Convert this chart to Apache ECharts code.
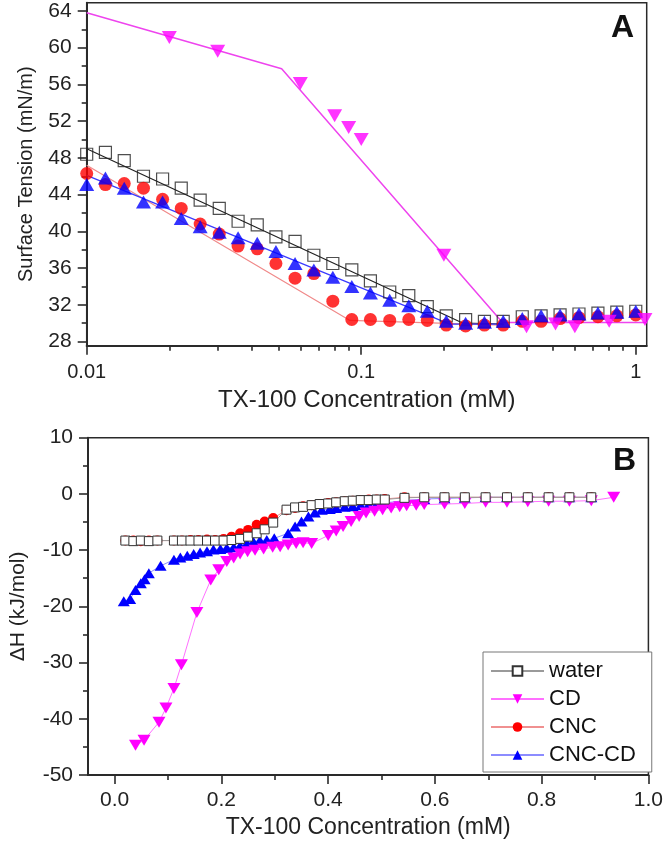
<!DOCTYPE html>
<html>
<head>
<meta charset="utf-8">
<script src="https://cdn.jsdelivr.net/npm/echarts@6/dist/echarts.min.js"></script>
<style>
html,body{margin:0;padding:0;background:#fff;}
#chart{width:666px;height:844px;}
</style>
</head>
<body>
<div id="chart"></div>
<script>
// ---------- Panel A: surface tension vs TX-100 concentration (log x) ----------
const concA = [0.0100,0.0117,0.0137,0.0161,0.0189,0.0221,0.0259,0.0304,0.0356,0.0418,0.0489,0.0574,0.0672,0.0788,0.0924,0.108,0.127,0.149,0.174,0.204,0.240,0.281,0.329,0.386,0.452,0.530,0.621,0.728,0.853,1.000];
const waterA = [48.4,48.6,47.7,46.0,45.7,44.7,43.4,42.5,41.1,40.7,39.4,38.9,37.4,36.5,35.8,34.6,33.4,33.0,31.8,30.8,30.4,30.2,30.2,30.7,30.8,30.9,31.0,31.1,31.2,31.3];
const cncA = [46.3,45.1,45.2,44.7,43.5,42.5,40.8,39.7,38.4,38.1,36.5,34.9,35.4,32.4,30.4,30.4,30.3,30.4,30.3,29.8,29.7,29.8,29.8,30.2,30.2,30.5,30.6,30.7,30.8,30.9];
const cncCdA = [45.1,45.8,44.7,43.2,43.2,41.4,40.5,39.9,39.3,38.7,37.8,36.5,35.8,35.0,34.0,33.3,32.5,31.9,31.3,30.2,30.0,30.1,30.2,30.5,30.8,30.9,31.0,31.1,31.2,31.3];
const concCdA = [0.020,0.030,0.060,0.080,0.090,0.100,0.200,0.400,0.510,0.600,0.800,1.080];
const cdA = [61.1,59.6,56.1,52.6,51.3,50.0,37.4,29.6,29.9,29.6,30.2,30.4];
// fitted lines (panel A)
const waterFitX = [0.01,0.235,0.33];  const waterFitY = [49.0,30.0,29.9];
const cncFitX = [0.01,0.091,0.33];    const cncFitY = [47.2,30.3,29.8];
const cncCdFitX = [0.01,0.21,0.33];   const cncCdFitY = [46.1,29.9,29.9];
const cdFitX = [0.01,0.0513,0.327,1.1]; const cdFitY = [63.8,57.7,30.07,30.07];
// axis ticks (panel A)
const xMajorA = [0.01,0.1,1];
const xMinorA = [0.02,0.03,0.04,0.05,0.06,0.07,0.08,0.09,0.2,0.3,0.4,0.5,0.6,0.7,0.8,0.9];
const yMajorA = [28,32,36,40,44,48,52,56,60,64];
const yMinorA = [30,34,38,42,46,50,54,58,62];

// ---------- Panel B: enthalpy vs TX-100 concentration ----------
const concB = [0.020,0.035,0.049,0.064,0.080,0.111,0.126,0.142,0.157,0.173,0.188,0.204,0.219,0.235,0.250,0.266,0.281,0.297,0.322,0.338,0.353,0.369,0.384,0.400,0.415,0.431,0.446,0.461,0.476,0.491,0.506,0.543,0.580,0.618,0.656,0.695,0.735,0.774,0.813,0.852,0.893];
const waterB = [-8.3,-8.4,-8.3,-8.4,-8.3,-8.3,-8.3,-8.3,-8.3,-8.3,-8.3,-8.3,-8.2,-8.0,-7.6,-7.0,-6.3,-5.1,-2.8,-2.4,-2.3,-2.0,-1.8,-1.7,-1.5,-1.3,-1.2,-1.1,-1.1,-1.0,-1.0,-0.7,-0.6,-0.6,-0.6,-0.6,-0.6,-0.6,-0.6,-0.6,-0.6];
const cncB = [-8.3,-8.3,-8.4,-8.3,-8.3,-8.3,-8.3,-8.2,-8.2,-8.1,-8.2,-8.0,-7.6,-7.0,-6.4,-5.5,-4.9,-4.3,-2.9,-2.5,-2.2,-2.0,-1.8,-1.6,-1.5,-1.3,-1.2,-1.1,-1.0,-1.0,-0.9,-0.6,-0.6,-0.6,-0.6,-0.6,-0.6,-0.6,-0.6,-0.6,-0.6];
const concCdB = [0.039,0.055,0.083,0.096,0.111,0.125,0.154,0.180,0.195,0.210,0.223,0.235,0.249,0.263,0.279,0.296,0.310,0.325,0.340,0.353,0.369,0.400,0.415,0.428,0.443,0.458,0.471,0.487,0.502,0.518,0.534,0.547,0.565,0.580,0.618,0.656,0.695,0.735,0.774,0.813,0.852,0.893,0.935];
const cdB = [-44.7,-43.8,-40.6,-38.1,-34.6,-30.4,-21.1,-15.3,-13.5,-12.0,-11.4,-10.7,-10.3,-10.0,-9.8,-9.5,-9.4,-9.1,-8.8,-8.7,-8.8,-7.4,-6.6,-5.8,-4.9,-4.0,-3.4,-3.1,-2.8,-2.5,-2.3,-2.1,-2.0,-1.9,-1.8,-1.7,-1.5,-1.5,-1.4,-1.3,-1.3,-1.2,-0.6];
const concCncCdB = [0.017,0.029,0.039,0.049,0.056,0.064,0.086,0.111,0.123,0.136,0.148,0.160,0.173,0.185,0.198,0.210,0.223,0.235,0.248,0.260,0.272,0.285,0.299,0.325,0.338,0.350,0.363,0.375,0.388,0.403,0.415,0.431,0.446,0.461,0.476,0.491,0.506,0.543,0.580,0.618,0.656,0.695,0.735,0.774,0.813,0.852,0.893];
const cncCdB = [-19.1,-18.7,-17.1,-15.9,-15.2,-14.1,-12.8,-11.7,-11.3,-11.0,-10.7,-10.4,-10.2,-9.9,-9.8,-9.6,-9.5,-9.2,-8.8,-8.5,-8.3,-8.2,-7.9,-7.0,-5.8,-4.9,-4.0,-3.3,-2.8,-2.7,-2.5,-2.3,-2.2,-2.0,-1.9,-1.8,-1.6,-1.2,-0.9,-0.8,-0.7,-0.6,-0.6,-0.6,-0.6,-0.6,-0.6];
const xMajorB = [0,0.2,0.4,0.6,0.8,1.0];
const xMinorB = [0.1,0.3,0.5,0.7,0.9];
const legendNames = ['water','CD','CNC','CNC-CD'];

function zip(xs, ys){ return xs.map((x,i)=>[x, ys[i]]); }

const FONT = '"Liberation Sans", Arial, sans-serif';
const AX = '#2a2a2a';
const TXT = '#222';

const chart = echarts.init(document.getElementById('chart'), null, {renderer:'canvas'});

const axisLineStyle = {show:true, onZero:false, lineStyle:{color:AX, width:2}};
const noLine = {show:false, onZero:false};
const majorTick = {color:AX, width:1.6};
const option = {
  animation:false,
  backgroundColor:'#fff',
  textStyle:{fontFamily:FONT},
  title:[
    {text:'A', right:32, top:12, padding:0, textStyle:{fontSize:32, fontWeight:'bold', color:'#111', fontFamily:FONT}},
    {text:'B', right:30, top:445, padding:0, textStyle:{fontSize:32, fontWeight:'bold', color:'#111', fontFamily:FONT}}
  ],
  legend:{
    data:legendNames,
    orient:'vertical',
    left:483, top:652,
    itemWidth:53, itemHeight:12, itemGap:6,
    padding:[8,16,6,7],
    borderColor:'#777', borderWidth:1, backgroundColor:'#fff',
    selectedMode:false,
    textStyle:{fontSize:22, lineHeight:22, color:'#111', fontFamily:FONT}
  },
  grid:[
    {left:86.7, top:2.7, width:560, height:343, show:true, borderColor:AX, borderWidth:1.5, backgroundColor:'transparent'},
    {left:86.7, top:437.7, width:563.3, height:337.3, show:true, borderColor:AX, borderWidth:1.5, backgroundColor:'transparent'}
  ],
  xAxis:[
    {gridIndex:0, type:'log', logBase:10, min:0.01, max:1.096, position:'bottom',
     axisLine:axisLineStyle,
     axisTick:{show:true, customValues:xMajorA, length:9, lineStyle:majorTick},
     axisLabel:{customValues:xMajorA, fontSize:20, margin:17, color:TXT, fontFamily:FONT,
       formatter:function(v){ return String(+v.toPrecision(3)); }},
     splitLine:{show:false},
     name:'TX-100 Concentration (mM)', nameLocation:'middle', nameGap:43,
     nameTextStyle:{fontSize:24, color:TXT, fontFamily:FONT}},
    {gridIndex:0, type:'log', logBase:10, min:0.01, max:1.096, position:'bottom',
     axisLine:noLine,
     axisTick:{show:true, customValues:xMinorA, length:5, lineStyle:majorTick},
     axisLabel:{show:false, customValues:xMinorA}, splitLine:{show:false}},
    {gridIndex:1, type:'value', min:-0.05, max:1.0, position:'bottom',
     axisLine:axisLineStyle,
     axisTick:{show:true, customValues:xMajorB, length:9, lineStyle:majorTick},
     axisLabel:{customValues:xMajorB, fontSize:21, margin:15, color:TXT, fontFamily:FONT,
       formatter:function(v){ return Number(v).toFixed(1); }},
     splitLine:{show:false},
     name:'TX-100 Concentration (mM)', nameLocation:'middle', nameGap:41.5,
     nameTextStyle:{fontSize:23, color:TXT, fontFamily:FONT}},
    {gridIndex:1, type:'value', min:-0.05, max:1.0, position:'bottom',
     axisLine:noLine,
     axisTick:{show:true, customValues:xMinorB, length:5, lineStyle:majorTick},
     axisLabel:{show:false, customValues:xMinorB}, splitLine:{show:false}}
  ],
  yAxis:[
    {gridIndex:0, type:'value', min:27.55, max:64.9, position:'left',
     axisLine:axisLineStyle,
     axisTick:{show:true, customValues:yMajorA, length:9, lineStyle:majorTick},
     axisLabel:{customValues:yMajorA, fontSize:21, margin:15, color:TXT, fontFamily:FONT},
     splitLine:{show:false},
     name:'Surface Tension (mN/m)', nameLocation:'middle', nameGap:50.7,
     nameTextStyle:{fontSize:20, color:TXT, fontFamily:FONT}},
    {gridIndex:0, type:'value', min:27.55, max:64.9, position:'left',
     axisLine:noLine,
     axisTick:{show:true, customValues:yMinorA, length:5, lineStyle:majorTick},
     axisLabel:{show:false, customValues:yMinorA}, splitLine:{show:false}},
    {gridIndex:1, type:'value', min:-50, max:10, interval:10, position:'left',
     axisLine:axisLineStyle,
     axisTick:{show:true, length:9, lineStyle:majorTick},
     minorTick:{show:true, splitNumber:2, length:5, lineStyle:majorTick},
     axisLabel:{fontSize:21, margin:15, color:TXT, fontFamily:FONT},
     splitLine:{show:false},
     name:'ΔH (kJ/mol)', nameLocation:'middle', nameGap:59,
     nameTextStyle:{fontSize:21, color:TXT, fontFamily:FONT}}
  ],
  series:[
    // ----- Panel A fits -----
    {name:'fit water A', type:'line', xAxisIndex:0, yAxisIndex:0, symbol:'none', silent:true,
     data:zip(waterFitX, waterFitY), lineStyle:{color:'#222', width:1.2}, z:2},
    {name:'fit CNC A', type:'line', xAxisIndex:0, yAxisIndex:0, symbol:'none', silent:true,
     data:zip(cncFitX, cncFitY), lineStyle:{color:'#f08a8a', width:1.2}, z:2},
    {name:'fit CNC-CD A', type:'line', xAxisIndex:0, yAxisIndex:0, symbol:'none', silent:true,
     data:zip(cncCdFitX, cncCdFitY), lineStyle:{color:'#3a3aff', width:1.2}, z:2},
    {name:'fit CD A', type:'line', xAxisIndex:0, yAxisIndex:0, symbol:'none', silent:true,
     data:zip(cdFitX, cdFitY), lineStyle:{color:'#ee44ee', width:1.5}, z:2},
    // ----- Panel A markers -----
    {name:'water A', type:'scatter', xAxisIndex:0, yAxisIndex:0, symbol:'rect', symbolSize:12,
     data:zip(concA, waterA), itemStyle:{color:'rgba(255,255,255,0)', borderColor:'#222', borderWidth:1.2}, z:3},
    {name:'CNC A', type:'scatter', xAxisIndex:0, yAxisIndex:0, symbol:'circle', symbolSize:13,
     data:zip(concA, cncA), itemStyle:{color:'#ff0000'}, z:3},
    {name:'CNC-CD A', type:'scatter', xAxisIndex:0, yAxisIndex:0, symbol:'triangle', symbolSize:[15,13],
     data:zip(concA, cncCdA), itemStyle:{color:'#0000ff'}, z:4},
    {name:'CD A', type:'scatter', xAxisIndex:0, yAxisIndex:0, symbol:'triangle', symbolRotate:180, symbolSize:[15,13],
     data:zip(concCdA, cdA), itemStyle:{color:'#ff00ff'}, z:5},
    // ----- Panel B -----
    {name:'CNC-CD', type:'line', xAxisIndex:2, yAxisIndex:2, symbol:'triangle', symbolSize:[12,10],
     data:zip(concCncCdB, cncCdB), lineStyle:{color:'#8c8cff', width:1}, itemStyle:{color:'#0000ff'}, z:3},
    {name:'CNC', type:'line', xAxisIndex:2, yAxisIndex:2, symbol:'circle', symbolSize:10,
     data:zip(concB, cncB), lineStyle:{color:'#f09090', width:1}, itemStyle:{color:'#ff0000'}, z:4},
    {name:'CD', type:'line', xAxisIndex:2, yAxisIndex:2, symbol:'triangle', symbolRotate:180, symbolSize:[13,11],
     data:zip(concCdB, cdB), lineStyle:{color:'#ff70ff', width:1}, itemStyle:{color:'#ff00ff'}, z:5},
    {name:'water', type:'line', xAxisIndex:2, yAxisIndex:2, symbol:'rect', symbolSize:9,
     data:zip(concB, waterB), lineStyle:{color:'#9a9a9a', width:1}, itemStyle:{color:'#ffffff', borderColor:'#333', borderWidth:1}, z:6}
  ]
};
chart.setOption(option);
</script>
</body>
</html>
